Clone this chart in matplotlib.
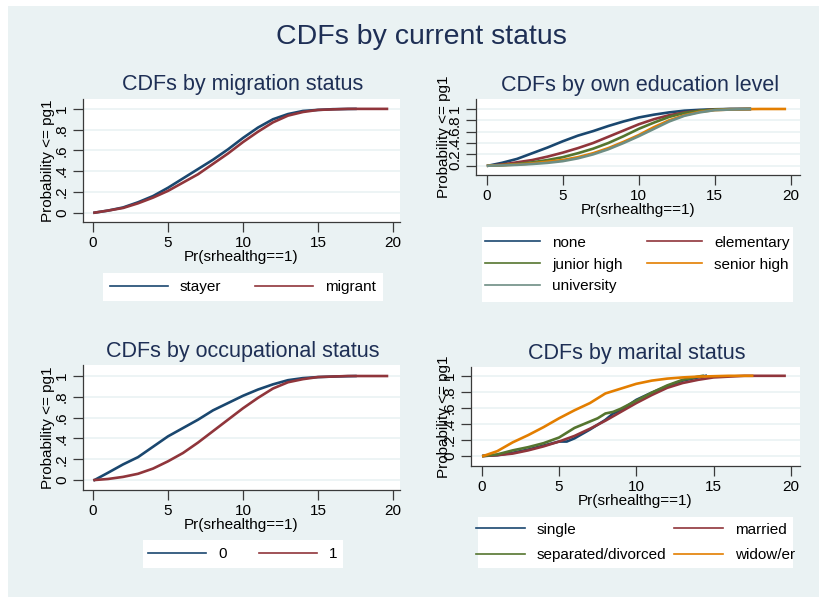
import numpy as np
import matplotlib.pyplot as plt
from matplotlib.lines import Line2D
from matplotlib.patches import Rectangle

# ---------------- Data ------------------------------------------
xticks = [0, 5, 10, 15, 20]
yticks = [0, 0.2, 0.4, 0.6, 0.8, 1]
ytick_labels = ['0', '.2', '.4', '.6', '.8', '1']

# migration status
stayer_x = [0.1, 1, 2, 3, 4, 5, 6, 7, 8, 9, 10, 11, 12, 13, 14, 15, 16, 17.5]
stayer_y = [0, .02, .05, .10, .16, .24, .33, .42, .51, .61, .72, .82, .90, .95, .98, .99, .997, 1]
migrant_x = [0.1, 1, 2, 3, 4, 5, 6, 7, 8, 9, 10, 11, 12, 13, 14, 15, 16, 17, 18, 19.6]
migrant_y = [0, .02, .045, .09, .145, .21, .29, .37, .47, .57, .68, .78, .87, .935, .97, .99, .995, 1, 1, 1]

# own education level
edu_x17 = [0.1, 1, 2, 3, 4, 5, 6, 7, 8, 9, 10, 11, 12, 13, 14, 15, 16, 17.3]
none_y = [0, .05, .12, .22, .32, .43, .53, .61, .70, .78, .85, .90, .94, .97, .985, .995, 1, 1]
elem_y = [0, .02, .06, .10, .16, .23, .31, .40, .51, .62, .73, .82, .89, .94, .97, .99, .997, 1]
junior_y = [0, .01, .03, .06, .10, .15, .22, .30, .40, .52, .65, .76, .86, .93, .97, .99, .997, 1]
univ_y = [0, .005, .015, .03, .05, .08, .13, .20, .29, .40, .52, .65, .78, .88, .94, .98, .99, 1]
senior_x = [0.1, 1, 2, 3, 4, 5, 6, 7, 8, 9, 10, 11, 12, 13, 14, 15, 16, 17, 18, 19, 19.6]
senior_y = [0, .01, .02, .04, .07, .10, .15, .22, .31, .42, .54, .68, .80, .89, .95, .98, .99, .997, 1, 1, 1]

# occupational status
occ0_x = [0.1, 1, 2, 3, 4, 5, 6, 7, 8, 9, 10, 11, 12, 13, 14, 15, 16, 17.5]
occ0_y = [0, .07, .15, .22, .32, .42, .50, .58, .67, .74, .81, .87, .92, .96, .98, .99, .995, 1]
occ1_x = [0.1, 1, 2, 3, 4, 5, 6, 7, 8, 9, 10, 11, 12, 13, 14, 15, 16, 17, 18, 19.6]
occ1_y = [0, .01, .03, .06, .11, .18, .26, .36, .47, .58, .69, .79, .88, .94, .97, .99, .995, 1, 1, 1]

# marital status
single_x = [0.1, 1, 2, 3, 4, 5, 5.5, 6, 7, 8, 8.5, 9, 10, 11, 12, 13, 14, 14.5]
single_y = [0, .01, .04, .08, .13, .18, .18, .22, .33, .45, .53, .57, .70, .79, .87, .94, .98, 1]
married_x = [0.1, 1, 2, 3, 4, 5, 6, 7, 8, 9, 10, 11, 12, 13, 14, 15, 16, 17, 18, 19.6]
married_y = [0, .01, .03, .07, .12, .18, .25, .34, .44, .55, .66, .76, .85, .91, .95, .98, .99, 1, 1, 1]
sep_x = [0.1, 1, 2, 3, 4, 5, 6, 7, 7.5, 8, 8.5, 9, 10, 11, 12, 13, 14, 14.3]
sep_y = [0, .02, .07, .11, .16, .23, .35, .43, .47, .53, .55, .59, .69, .79, .88, .95, .99, 1]
widow_x = [0.1, 1, 2, 3, 4, 5, 6, 7, 8, 9, 10, 11, 12, 13, 14, 15, 16, 17.5]
widow_y = [0, .06, .17, .26, .36, .47, .57, .66, .78, .84, .90, .94, .965, .98, .99, .995, 1, 1]

# ---------------- Style -----------------
W, H = 819, 597
BG = '#EAF2F3'
TITLE = '#1E2F55'
AXC = '#3A3A3A'
navy, maroon, green, orange, teal = '#1A476F', '#90353B', '#55752F', '#E37E00', '#6E8E84'

plt.rcParams['font.family'] = ['Liberation Sans', 'DejaVu Sans']

fig = plt.figure(figsize=(W / 100, H / 100), dpi=100)
fig.patch.set_facecolor('white')
fig.add_artist(Rectangle((8 / W, 0), 1, 1 - 6 / H, transform=fig.transFigure,
                         facecolor=BG, edgecolor='none', zorder=-10))


def px(l, t, r, b):
    return [l / W, 1 - b / H, (r - l) / W, (b - t) / H]


# ---------------- One panel -----------------
def panel(box, xlim, ylim, title, title_x, ylab_x, series, legbox, order, colsp, hlen, lsp):
    l, t, r, b = box
    ax = fig.add_axes(px(*box))
    ax.set_facecolor('white')
    for x, y, c, lab in series:
        ax.plot(x, y, color=c, lw=1.9, label=lab, solid_joinstyle='round')
    ax.set_xlim(*xlim)
    ax.set_ylim(*ylim)
    ax.set_xticks(xticks)
    ax.set_yticks(yticks)
    ax.set_yticklabels(ytick_labels)
    ax.yaxis.grid(True, color=BG, lw=1.2)
    ax.set_axisbelow(True)
    for s in ['top', 'right']:
        ax.spines[s].set_visible(False)
    for s in ['left', 'bottom']:
        ax.spines[s].set_color(AXC)
        ax.spines[s].set_linewidth(0.9)
    ax.tick_params(length=7, width=0.9, color=AXC, labelsize=11, pad=3)
    ax.tick_params(axis='y', labelrotation=90)
    for lab in ax.get_yticklabels():
        lab.set_va('center')
    ax.set_xlabel('Pr(srhealthg==1)', fontsize=11, labelpad=0)
    fig.text(ylab_x / W, 1 - (t + b) / 2 / H, 'Probability <= pg1', rotation=90,
             ha='center', va='center', fontsize=11)
    fig.text(title_x / W, 1 - (t - 14) / H, title, ha='center', va='center',
             fontsize=15.5, color=TITLE)

    lax = fig.add_axes(px(*legbox))
    lax.set_facecolor('white')
    for s in lax.spines.values():
        s.set_visible(False)
    lax.set_xticks([])
    lax.set_yticks([])
    handles = [Line2D([], [], color=series[i][2], lw=1.2) for i in order]
    labels = [series[i][3] for i in order]
    lax.legend(handles, labels, ncol=2, loc='center', frameon=False, fontsize=11,
               handlelength=hlen, handletextpad=0.8, columnspacing=colsp,
               labelspacing=lsp)
    return ax


panel((83, 98.5, 400, 222), (-0.67, 20.47), (-0.09, 1.10),
      'CDFs by migration status', 243, 48,
      [(stayer_x, stayer_y, navy, 'stayer'),
       (migrant_x, migrant_y, maroon, 'migrant')],
      (103, 273, 383, 301), [0, 1], 2.2, 3.8, 0.35)

panel((476, 99, 800, 175), (-0.7, 20.6), (-0.164, 1.176),
      'CDFs by own education level', 640, 444,
      [(edu_x17, none_y, navy, 'none'),
       (edu_x17, elem_y, maroon, 'elementary'),
       (edu_x17, junior_y, green, 'junior high'),
       (senior_x, senior_y, orange, 'senior high'),
       (edu_x17, univ_y, teal, 'university')],
      (482, 227, 793, 302), [0, 2, 4, 1, 3], 1.6, 3.6, 0.52)

panel((83, 365, 400, 490), (-0.67, 20.47), (-0.096, 1.106),
      'CDFs by occupational status', 243, 48,
      [(occ0_x, occ0_y, navy, '0'),
       (occ1_x, occ1_y, maroon, '1')],
      (143, 540, 343, 568), [0, 1], 2.1, 3.8, 0.35)

panel((471, 367, 800, 466), (-0.7, 20.6), (-0.125, 1.11),
      'CDFs by marital status', 637, 444,
      [(single_x, single_y, navy, 'single'),
       (married_x, married_y, maroon, 'married'),
       (sep_x, sep_y, green, 'separated/divorced'),
       (widow_x, widow_y, orange, 'widow/er')],
      (478, 517, 793, 568), [0, 2, 1, 3], 0.5, 3.2, 0.75)

fig.text(421 / W, 1 - 37 / H, 'CDFs by current status', ha='center', va='center',
         fontsize=20.5, color=TITLE)

fig.savefig('out.png', dpi=100)
